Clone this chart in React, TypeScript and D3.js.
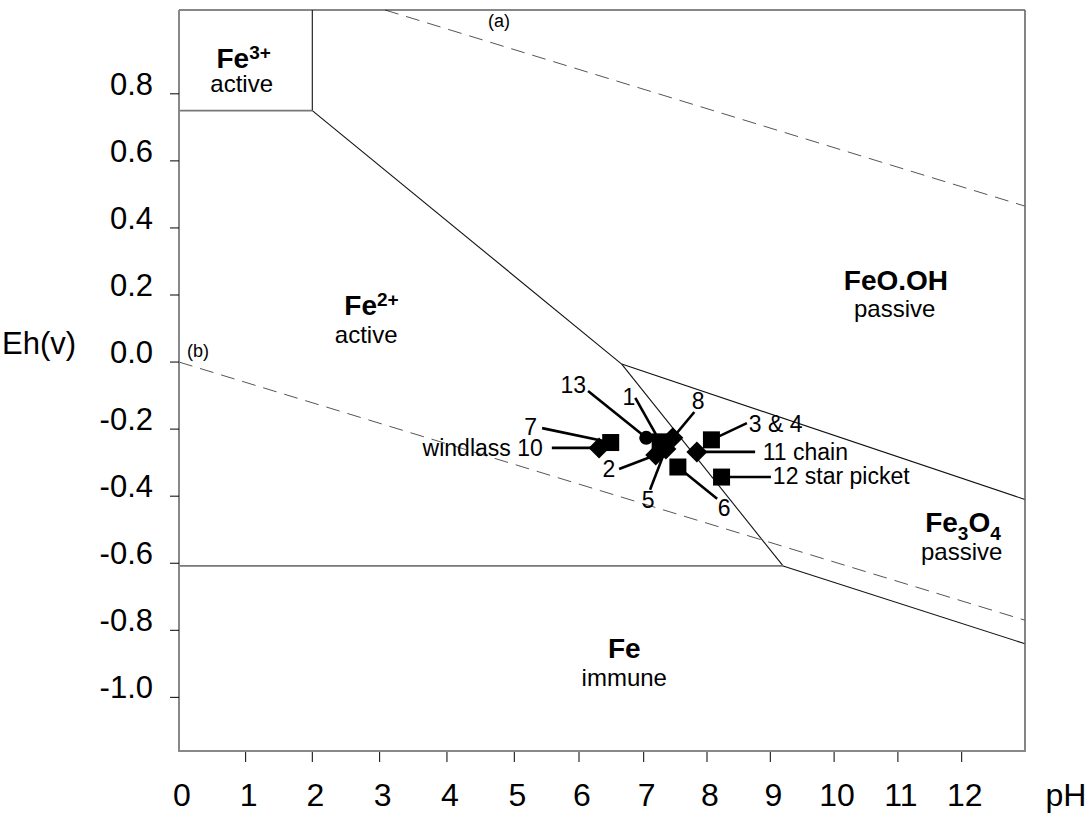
import React from 'react';
import * as d3 from 'd3';

// ---------- data ----------
const xLabelValues = [0, 1, 2, 3, 4, 5, 6, 7, 8, 9, 10, 11, 12];
const xTickValues = [1, 2, 3, 4, 5, 6, 7, 8, 9, 10, 11, 12];
const yTickValues = [0.8, 0.6, 0.4, 0.2, 0.0, -0.2, -0.4, -0.6, -0.8, -1.0];
const yTickLabels = ['0.8', '0.6', '0.4', '0.2', '0.0', '-0.2', '-0.4', '-0.6', '-0.8', '-1.0'];

// stability-field boundaries [pH, Eh]
const fe3Horizontal: [number, number][] = [[0, 0.75], [2, 0.75]];
const fe3Vertical: [number, number][] = [[2, 0.75], [2, 1.05]];
const fe2FeOOH: [number, number][] = [[2, 0.75], [6.66, -0.006]];
const fe2Fe3O4: [number, number][] = [[6.66, -0.006], [9.2, -0.608]];
const feoohFe3O4: [number, number][] = [[6.66, -0.006], [13, -0.41]];
const feFe2: [number, number][] = [[0, -0.608], [9.2, -0.608]];
const feFe3O4: [number, number][] = [[9.2, -0.608], [13, -0.84]];
const waterA: [number, number][] = [[3.08, 1.05], [13, 0.465]];
const waterB: [number, number][] = [[0, 0.0], [13, -0.77]];

// measured artefacts
const markers = [
  { id: '13', shape: 'circle', pH: 7.04, eh: -0.226 },
  { id: '7', shape: 'square', pH: 6.49, eh: -0.240 },
  { id: '10', shape: 'diamond', pH: 6.31, eh: -0.256 },
  { id: '1', shape: 'square', pH: 7.26, eh: -0.238 },
  { id: '2', shape: 'diamond', pH: 7.19, eh: -0.277 },
  { id: '5', shape: 'diamond', pH: 7.35, eh: -0.259 },
  { id: '8', shape: 'diamond', pH: 7.46, eh: -0.226 },
  { id: '3&4', shape: 'square', pH: 8.07, eh: -0.232 },
  { id: '11', shape: 'diamond', pH: 7.84, eh: -0.268 },
  { id: '6', shape: 'square', pH: 7.54, eh: -0.313 },
  { id: '12', shape: 'square', pH: 8.23, eh: -0.343 },
];

// annotation labels: leader end (lpH, leh) and text position (tpH, teh)
const annotations = [
  { id: '13', text: '13', lpH: 6.14, leh: -0.086, tpH: 6.11, teh: -0.092, anchor: 'end' },
  { id: '1', text: '1', lpH: 6.87, leh: -0.107, tpH: 6.77, teh: -0.128, anchor: 'middle' },
  { id: '8', text: '8', lpH: 7.80, leh: -0.149, tpH: 7.86, teh: -0.140, anchor: 'middle' },
  { id: '2', text: '2', lpH: 6.62, leh: -0.319, tpH: 6.56, teh: -0.343, anchor: 'end' },
  { id: '5', text: '5', lpH: 7.10, leh: -0.381, tpH: 7.07, teh: -0.435, anchor: 'middle' },
  { id: '6', text: '6', lpH: 8.16, leh: -0.408, tpH: 8.27, teh: -0.459, anchor: 'middle' },
  { id: '7', text: '7', lpH: 5.43, leh: -0.197, tpH: 5.35, teh: -0.217, anchor: 'end' },
  { id: '10', text: 'windlass 10', lpH: 5.58, leh: -0.256, tpH: 5.44, teh: -0.280, anchor: 'end' },
  { id: '3&4', text: '3 & 4', lpH: 8.63, leh: -0.182, tpH: 8.66, teh: -0.209, anchor: 'start' },
  { id: '11', text: '11 chain', lpH: 8.76, leh: -0.268, tpH: 8.88, teh: -0.292, anchor: 'start' },
  { id: '12', text: '12 star picket', lpH: 9.01, leh: -0.343, tpH: 9.04, teh: -0.364, anchor: 'start' },
];

// region labels
const regionLabels = [
  { main: 'Fe', sup: '3+', sub: '', rest: '', sub2: '', pH: 0.97, eh: 0.877, note: 'active', npH: 0.94, neh: 0.806 },
  { main: 'Fe', sup: '2+', sub: '', rest: '', sub2: '', pH: 2.88, eh: 0.140, note: 'active', npH: 2.80, neh: 0.057 },
  { main: 'FeO.OH', sup: '', sub: '', rest: '', sub2: '', pH: 10.97, eh: 0.215, note: 'passive', npH: 10.95, neh: 0.134 },
  { main: 'Fe', sup: '', sub: '3', rest: 'O', sub2: '4', pH: 12.02, eh: -0.507, note: 'passive', npH: 12.0, neh: -0.590 },
  { main: 'Fe', sup: '', sub: '', rest: '', sub2: '', pH: 6.70, eh: -0.883, note: 'immune', npH: 6.70, neh: -0.967 },
];

const lineLabels = [
  { text: '(a)', pH: 4.61, eh: 0.999 },
  { text: '(b)', pH: 0.12, eh: 0.015 },
];

// ---------- chart ----------
const FONT = '"Liberation Sans", Arial, Helvetica, sans-serif';

export default function App() {
  const W = 1092, H = 814;
  const L = 179, R = 1025, T = 10, B = 751;
  const x = d3.scaleLinear()
    .domain([0, 2, 5, 7, 9, 12, 13])
    .range([179, 312.3, 514.3, 643.7, 770.3, 961.7, 1025]);
  const y = d3.scaleLinear().domain([-1.16, 1.05]).range([B, T]);
  const line = d3.line<[number, number]>().x(d => x(d[0])).y(d => y(d[1]));

  const markerById: Record<string, typeof markers[number]> = {};
  markers.forEach(m => { markerById[m.id] = m; });

  const solid = [fe2FeOOH, fe2Fe3O4, feoohFe3O4, feFe3O4, fe3Vertical];
  const grayH = [fe3Horizontal, feFe2];

  return (
    <svg width={W} height={H} style={{ position: 'absolute', left: 0, top: 0, background: '#fff' }}
      fontFamily={FONT}>
      <rect x={0} y={0} width={W} height={H} fill="#fff" />
      {/* water dashed lines */}
      {[waterA, waterB].map((d, i) => (
        <path key={'w' + i} d={line(d) || ''} fill="none" stroke="#555" strokeWidth={1} strokeDasharray="14,8" />
      ))}
      {/* boundaries */}
      {solid.map((d, i) => (
        <path key={'s' + i} d={line(d) || ''} fill="none" stroke="#111" strokeWidth={1.1} />
      ))}
      {grayH.map((d, i) => (
        <path key={'g' + i} d={line(d) || ''} fill="none" stroke="#777" strokeWidth={1.6} />
      ))}
      {/* frame */}
      <line x1={L} x2={R} y1={T} y2={T} stroke="#111" strokeWidth={1.2} />
      <line x1={R} x2={R} y1={T} y2={B} stroke="#666" strokeWidth={1.6} />
      <line x1={L} x2={L} y1={T} y2={B + 1} stroke="#888" strokeWidth={2} />
      <line x1={L - 1} x2={R + 1} y1={B} y2={B} stroke="#888" strokeWidth={2} />
      {/* y ticks */}
      {yTickValues.map((v, i) => (
        <g key={'yt' + i}>
          <line x1={L - 9} x2={L} y1={y(v)} y2={y(v)} stroke="#000" strokeWidth={1} />
          <text x={153} y={y(v) + 1} textAnchor="end" fontSize={31} fill="#000">{yTickLabels[i]}</text>
        </g>
      ))}
      {/* x ticks */}
      {xTickValues.map(v => (
        <line key={'xt' + v} x1={x(v)} x2={x(v)} y1={B + 1} y2={B + 11} stroke="#000" strokeWidth={1} />
      ))}
      {xLabelValues.map(v => (
        <text key={'xl' + v} x={x(v) + 3} y={806} textAnchor="middle" fontSize={32} fill="#000">{String(v)}</text>
      ))}
      <text x={1066} y={806} textAnchor="middle" fontSize={32} fill="#000">pH</text>
      <text x={2} y={354} textAnchor="start" fontSize={31} fill="#000">Eh(v)</text>
      {/* line labels */}
      {lineLabels.map((l, i) => (
        <text key={'ll' + i} x={x(l.pH)} y={y(l.eh)} fontSize={18} fill="#000">{l.text}</text>
      ))}
      {/* region labels */}
      {regionLabels.map((r, i) => (
        <g key={'r' + i}>
          <text x={x(r.pH)} y={y(r.eh)} textAnchor="middle" fontSize={28} fontWeight="bold" fill="#000">
            {r.main}
            {r.sup ? <tspan fontSize={19} dy={-9}>{r.sup}</tspan> : null}
            {r.sub ? <tspan fontSize={19} dy={8}>{r.sub}</tspan> : null}
            {r.rest ? <tspan fontSize={28} dy={-8}>{r.rest}</tspan> : null}
            {r.sub2 ? <tspan fontSize={19} dy={8}>{r.sub2}</tspan> : null}
          </text>
          <text x={x(r.npH)} y={y(r.neh)} textAnchor="middle" fontSize={24} fill="#000">{r.note}</text>
        </g>
      ))}
      {/* leaders */}
      {annotations.map(a => {
        const m = markerById[a.id];
        return (
          <line key={'ld' + a.id} x1={x(m.pH)} y1={y(m.eh)} x2={x(a.lpH)} y2={y(a.leh)}
            stroke="#000" strokeWidth={2.6} />
        );
      })}
      {/* markers */}
      {markers.map(m => {
        const cx = x(m.pH), cy = y(m.eh);
        if (m.shape === 'circle') return <circle key={'m' + m.id} cx={cx} cy={cy} r={7} fill="#000" />;
        if (m.shape === 'square') return <rect key={'m' + m.id} x={cx - 8.5} y={cy - 8.5} width={17} height={17} fill="#000" />;
        const s = 10.5;
        return <path key={'m' + m.id} d={`M${cx},${cy - s}L${cx + s},${cy}L${cx},${cy + s}L${cx - s},${cy}Z`} fill="#000" />;
      })}
      {/* annotation text */}
      {annotations.map(a => (
        <text key={'at' + a.id} x={x(a.tpH)} y={y(a.teh)} textAnchor={a.anchor as any} fontSize={23} fill="#000">{a.text}</text>
      ))}
    </svg>
  );
}
